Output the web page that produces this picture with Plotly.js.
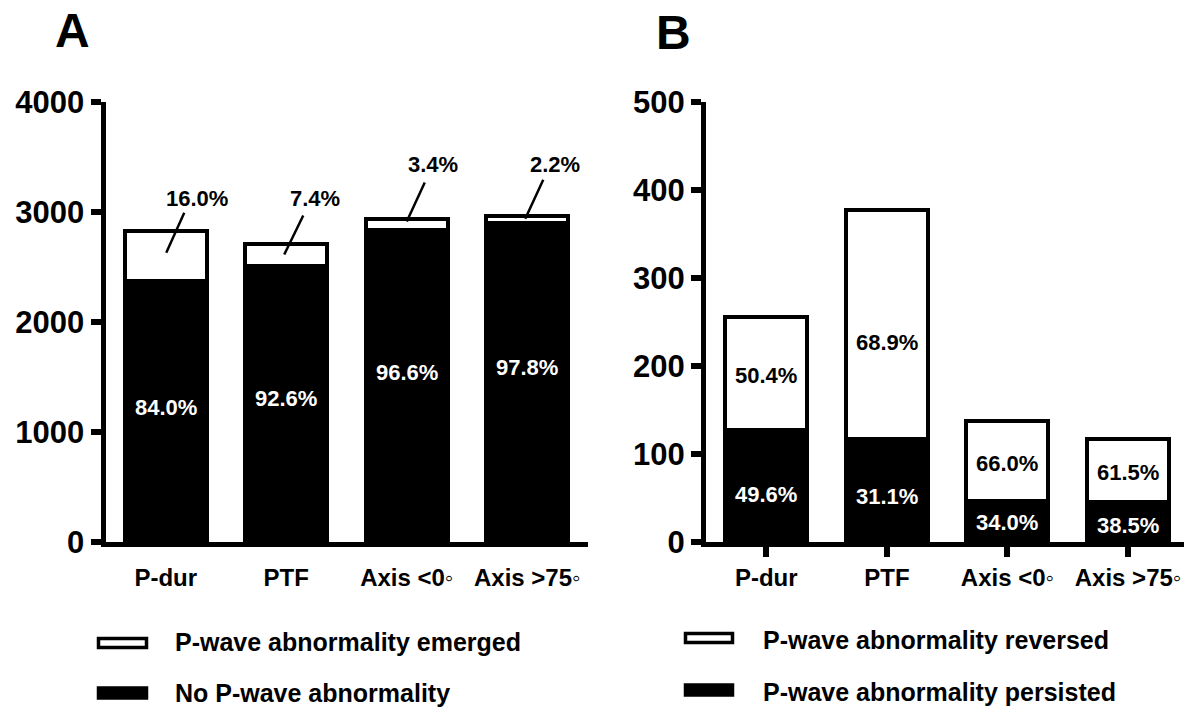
<!DOCTYPE html>
<html>
<head>
<meta charset="utf-8">
<script src="https://cdn.plot.ly/plotly-3.0.1.min.js"></script>
<style>html,body{margin:0;padding:0;background:#fff;}#chart{width:1184px;height:708px;}</style>
</head>
<body>
<div id="chart"></div>
<script>
// ---------- DATA ----------
const categories = ['P-dur', 'PTF', 'Axis <0\u25E6', 'Axis >75\u25E6'];
// Panel A
const aNoAbnormality = [2377, 2505, 2840, 2900];
const aEmerged = [453, 200, 100, 65];
const aPctNo = ['84.0%', '92.6%', '96.6%', '97.8%'];
const aPctEmerged = ['16.0%', '7.4%', '3.4%', '2.2%'];
const aTickVals = [0, 1000, 2000, 3000, 4000];
// Panel B
const bPersisted = [127, 117, 47, 45];
const bReversed = [129, 260, 91, 72];
const bPctPersisted = ['49.6%', '31.1%', '34.0%', '38.5%'];
const bPctReversed = ['50.4%', '68.9%', '66.0%', '61.5%'];
const bTickVals = [0, 100, 200, 300, 400, 500];
// Legends / titles
const legendA = ['P-wave abnormality emerged', 'No P-wave abnormality'];
const legendB = ['P-wave abnormality reversed', 'P-wave abnormality persisted'];
const panelTitles = ['A', 'B'];

// ---------- STYLE / GEOMETRY ----------
const W = 1184, H = 708;
const FONT = 'Liberation Sans, Arial, Helvetica, sans-serif';
const px = v => v / W;
const py = v => 1 - v / H;
const idx = categories.map((_, i) => i);
const barW = 0.68;
const barLine = {color: '#000', width: 4};

// callout leader lines (pixel offsets from bar top centre): [dx0, dy0, dx1, dy1]
const calloutLine = [[0.5, -22, 18.5, 18], [-2, -10, 17, 29], [0, -3, 18, 36], [-2, -3, 16, 36]];
const calloutText = [[31.5, 32], [29, 46], [26, 54], [28, 51]];
const aInnerShift = [4, 6, 13, 15];
const bPersShift = [-8, -6, -1, -3];
const bRevShift = [-2, -18, -3, -2];

const sum = (a, b) => a.map((v, i) => v + b[i]);
const aTotal = sum(aNoAbnormality, aEmerged);

const traces = [
  {type: 'bar', x: idx, y: aNoAbnormality, xaxis: 'x', yaxis: 'y', width: barW,
   marker: {color: '#000', line: barLine}, hoverinfo: 'skip'},
  {type: 'bar', x: idx, y: aEmerged, xaxis: 'x', yaxis: 'y', width: barW,
   marker: {color: '#fff', line: barLine}, hoverinfo: 'skip'},
  {type: 'bar', x: idx, y: bPersisted, xaxis: 'x2', yaxis: 'y2', width: barW,
   marker: {color: '#000', line: barLine}, hoverinfo: 'skip'},
  {type: 'bar', x: idx, y: bReversed, xaxis: 'x2', yaxis: 'y2', width: barW,
   marker: {color: '#fff', line: barLine}, hoverinfo: 'skip'}
];

const tickFontY = {family: FONT, size: 31, color: '#000', weight: 'bold'};
const tickFontX = {family: FONT, size: 24, color: '#000', weight: 'bold'};
const yDomain = [py(542), py(102)];

const annotations = [];
const shapes = [];

// Panel A annotations
idx.forEach(i => {
  annotations.push({xref: 'x', yref: 'y', x: i, y: aNoAbnormality[i] / 2, text: aPctNo[i],
    showarrow: false, yshift: aInnerShift[i], font: {family: FONT, size: 22, color: '#fff', weight: 'bold'}});
  annotations.push({xref: 'x', yref: 'y', x: i, y: aTotal[i], text: aPctEmerged[i],
    showarrow: false, xshift: calloutText[i][0], yshift: calloutText[i][1],
    font: {family: FONT, size: 22, color: '#000', weight: 'bold'}});
  const g = calloutLine[i];
  shapes.push({type: 'line', xref: 'x', yref: 'y', xsizemode: 'pixel', ysizemode: 'pixel',
    xanchor: i, yanchor: aTotal[i], x0: g[0], y0: g[1], x1: g[2], y1: g[3],
    line: {color: '#000', width: 2.5}});
});
// Panel B annotations
idx.forEach(i => {
  annotations.push({xref: 'x2', yref: 'y2', x: i, y: bPersisted[i] / 2, text: bPctPersisted[i],
    showarrow: false, yshift: bPersShift[i], font: {family: FONT, size: 22, color: '#fff', weight: 'bold'}});
  annotations.push({xref: 'x2', yref: 'y2', x: i, y: bPersisted[i] + bReversed[i] / 2, text: bPctReversed[i],
    showarrow: false, yshift: bRevShift[i], font: {family: FONT, size: 22, color: '#000', weight: 'bold'}});
});

// Panel titles
annotations.push({xref: 'paper', yref: 'paper', x: px(72), y: py(31), text: panelTitles[0], showarrow: false,
  xanchor: 'center', yanchor: 'middle', font: {family: FONT, size: 48, color: '#000', weight: 'bold'}});
annotations.push({xref: 'paper', yref: 'paper', x: px(673), y: py(32), text: panelTitles[1], showarrow: false,
  xanchor: 'center', yanchor: 'middle', font: {family: FONT, size: 48, color: '#000', weight: 'bold'}});

// Custom legends
const legFont = {family: FONT, size: 25, color: '#000', weight: 'bold'};
const legends = [
  {texts: legendA, iconX: [98.5, 146.5], textX: 173, rows: [[638.5, 647.5, 641.5], [688, 698, 692.5]]},
  {texts: legendB, iconX: [685.5, 732.5], textX: 761, rows: [[633.5, 642.5, 640], [685, 695, 691.5]]}
];
legends.forEach(L => {
  L.rows.forEach((r, k) => {
    shapes.push({type: 'rect', xref: 'paper', yref: 'paper', x0: px(L.iconX[0]), x1: px(L.iconX[1]),
      y0: py(r[1]), y1: py(r[0]), fillcolor: k === 0 ? '#fff' : '#000', line: {color: '#000', width: 3.5}});
    annotations.push({xref: 'paper', yref: 'paper', x: px(L.textX), y: py(r[2]), text: L.texts[k],
      showarrow: false, xanchor: 'left', yanchor: 'middle', font: legFont});
  });
});

const xCommon = {
  type: 'linear', tickmode: 'array', tickvals: idx, ticktext: categories,
  showline: true, linewidth: 5, linecolor: '#000', showgrid: false, zeroline: false,
  ticks: 'outside', ticklen: 10, tickwidth: 6, tickfont: tickFontX, fixedrange: true
};
const yCommon = {
  showline: true, linewidth: 5, linecolor: '#000', showgrid: false, zeroline: false,
  ticks: 'outside', ticklen: 10, tickwidth: 6, tickcolor: '#000', tickfont: tickFontY,
  domain: yDomain, tickmode: 'array', fixedrange: true
};

const layout = {
  width: W, height: H, margin: {l: 0, r: 0, t: 0, b: 0, pad: 0},
  paper_bgcolor: '#fff', plot_bgcolor: '#fff', showlegend: false,
  barmode: 'stack', font: {family: FONT, color: '#000'},
  xaxis: Object.assign({}, xCommon, {domain: [px(105.5), px(587.5)], range: [-0.5, 3.5], anchor: 'y',
    tickcolor: 'rgba(0,0,0,0)'}),
  yaxis: Object.assign({}, yCommon, {range: [0, 4000], tickvals: aTickVals, anchor: 'x'}),
  xaxis2: Object.assign({}, xCommon, {domain: [px(706), 1], range: [-0.5, 3.464], anchor: 'y2',
    tickcolor: '#000'}),
  yaxis2: Object.assign({}, yCommon, {range: [0, 500], tickvals: bTickVals, anchor: 'x2'}),
  annotations: annotations,
  shapes: shapes
};

Plotly.newPlot('chart', traces, layout, {staticPlot: true, displayModeBar: false});
</script>
</body>
</html>
